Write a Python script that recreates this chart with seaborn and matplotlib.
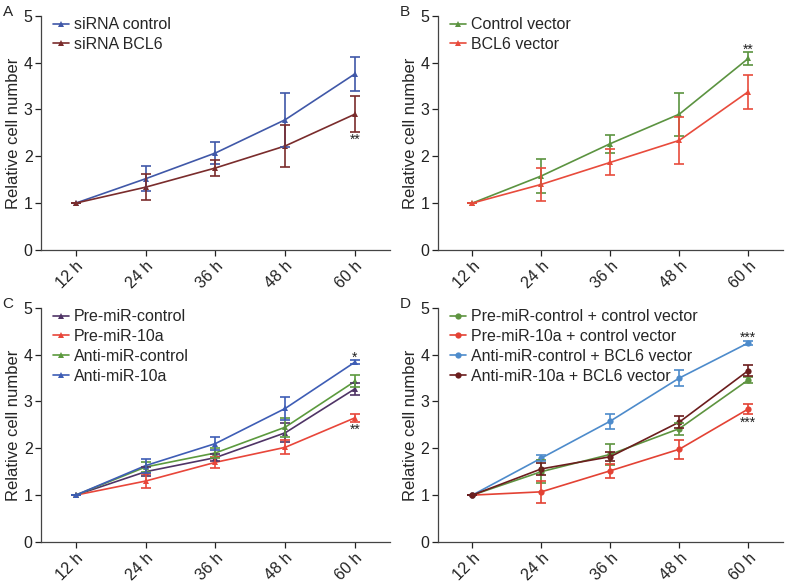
import matplotlib
matplotlib.use("Agg")
import matplotlib.pyplot as plt
import seaborn as sns
import pandas as pd
import numpy as np

sns.set_style("ticks")
plt.rcParams["font.family"] = ["Liberation Sans", "DejaVu Sans"]

# time points
hours = [12, 24, 36, 48, 60]
hour_labels = ["12 h", "24 h", "36 h", "48 h", "60 h"]

# panel A
a_names = ["siRNA control", "siRNA BCL6"]
a_means = [[1.0, 1.52, 2.07, 2.78, 3.76],
           [1.0, 1.34, 1.75, 2.22, 2.90]]
a_errs = [[0.0, 0.27, 0.23, 0.58, 0.37],
          [0.0, 0.28, 0.17, 0.44, 0.39]]
a_colors = ["#4058A8", "#7A2C2C"]

# panel B
b_names = ["Control vector", "BCL6 vector"]
b_means = [[1.0, 1.58, 2.27, 2.90, 4.09],
           [1.0, 1.40, 1.87, 2.34, 3.38]]
b_errs = [[0.0, 0.37, 0.19, 0.46, 0.14],
          [0.0, 0.35, 0.28, 0.50, 0.36]]
b_colors = ["#5B9340", "#E84B3C"]

# panel C
c_names = ["Pre-miR-control", "Pre-miR-10a", "Anti-miR-control", "Anti-miR-10a"]
c_means = [[1.0, 1.50, 1.80, 2.33, 3.27],
           [1.0, 1.30, 1.70, 2.02, 2.65],
           [1.0, 1.60, 1.90, 2.45, 3.43],
           [1.0, 1.63, 2.10, 2.85, 3.84]]
c_errs = [[0.0, 0.10, 0.08, 0.20, 0.13],
          [0.0, 0.15, 0.12, 0.15, 0.08],
          [0.0, 0.10, 0.10, 0.20, 0.13],
          [0.0, 0.15, 0.14, 0.25, 0.05]]
c_colors = ["#4F3466", "#E8463A", "#5C9A3E", "#3E5DB5"]

# panel D
d_names = ["Pre-miR-control + control vector", "Pre-miR-10a + control vector",
           "Anti-miR-control + BCL6 vector", "Anti-miR-10a + BCL6 vector"]
d_means = [[1.0, 1.50, 1.87, 2.42, 3.46],
           [1.0, 1.07, 1.52, 1.98, 2.84],
           [1.0, 1.79, 2.58, 3.50, 4.25],
           [1.0, 1.56, 1.82, 2.56, 3.66]]
d_errs = [[0.0, 0.25, 0.22, 0.13, 0.07],
          [0.0, 0.23, 0.15, 0.20, 0.10],
          [0.0, 0.06, 0.16, 0.18, 0.04],
          [0.0, 0.12, 0.10, 0.13, 0.12]]
d_colors = ["#5E9440", "#E34234", "#4D8BCB", "#6B1D1D"]

# significance marks: (text, hour, y)
a_stars = [("**", 60, 2.35)]
b_stars = [("**", 60, 4.28)]
c_stars = [("*", 60, 3.94), ("**", 60, 2.40)]
d_stars = [("***", 60, 4.36), ("***", 60, 2.55)]


def draw_panel(ax, letter, names, means, errs, colors, stars, marker, msize):
    rows = []
    for name, m in zip(names, means):
        for h, v in zip(hours, m):
            rows.append({"hour": h, "value": v, "group": name})
    df = pd.DataFrame(rows)
    sns.lineplot(data=df, x="hour", y="value", hue="group", hue_order=names,
                 palette=colors, marker=marker, markersize=msize,
                 markeredgewidth=0, linewidth=1.2, ax=ax, errorbar=None)
    for m, e, c in zip(means, errs, colors):
        ax.errorbar(hours, m, yerr=e, fmt="none", ecolor=c, elinewidth=1.2,
                    capsize=3.5, capthick=1.2)
    for txt, h, y in stars:
        ax.text(h, y, txt, ha="center", va="center", fontsize=10, color="#222222")

    ax.set_xlim(6, 66)
    ax.set_ylim(0, 5)
    ax.set_xticks(hours)
    ax.set_xticklabels(hour_labels, rotation=45, ha="right", rotation_mode="anchor")
    ax.set_yticks([0, 1, 2, 3, 4, 5])
    ax.set_xlabel("")
    ax.set_ylabel("Relative cell number", fontsize=12, labelpad=2)
    ax.tick_params(labelsize=11.5, length=4, width=0.9, colors="#222222", pad=2)
    for s in ["left", "bottom"]:
        ax.spines[s].set_linewidth(0.9)
        ax.spines[s].set_color("#444444")
    sns.despine(ax=ax)
    ax.legend(loc="upper left", bbox_to_anchor=(0.008, 1.035), frameon=False,
              fontsize=11.5, handlelength=1.0, handletextpad=0.3,
              labelspacing=0.3, borderaxespad=0.2)
    ax.text(-0.095, 1.015, letter, transform=ax.transAxes, fontsize=11,
            ha="center", va="center")


fig = plt.figure(figsize=(7.86, 5.84), dpi=100)
ax_a = fig.add_axes([0.052, 0.572, 0.444, 0.401])
ax_b = fig.add_axes([0.557, 0.572, 0.439, 0.401])
ax_c = fig.add_axes([0.052, 0.072, 0.444, 0.401])
ax_d = fig.add_axes([0.557, 0.072, 0.439, 0.401])

draw_panel(ax_a, "A", a_names, a_means, a_errs, a_colors, a_stars, "^", 4)
draw_panel(ax_b, "B", b_names, b_means, b_errs, b_colors, b_stars, "^", 4)
draw_panel(ax_c, "C", c_names, c_means, c_errs, c_colors, c_stars, "^", 4)
draw_panel(ax_d, "D", d_names, d_means, d_errs, d_colors, d_stars, "o", 4.5)

fig.savefig("out.png", dpi=100)
